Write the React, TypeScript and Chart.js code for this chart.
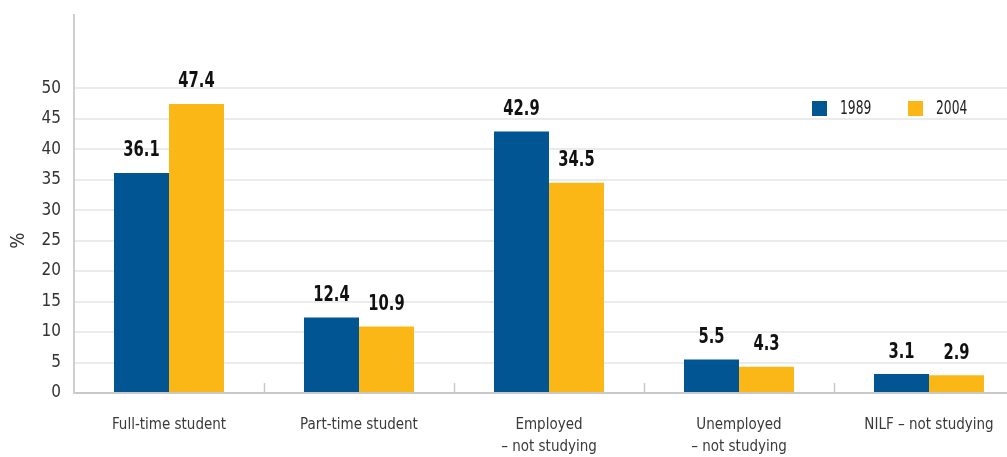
import React, { useEffect, useRef } from "react";
import { Chart, registerables } from "chart.js";

Chart.register(...registerables);

const categories: (string | string[])[] = [
  "Full-time student",
  "Part-time student",
  ["Employed", "– not studying"],
  ["Unemployed", "– not studying"],
  "NILF – not studying",
];
const series1989 = [36.1, 12.4, 42.9, 5.5, 3.1];
const series2004 = [47.4, 10.9, 34.5, 4.3, 2.9];
const seriesNames = ["1989", "2004"];
const yTickMax = 50;
const yAxisTitle = "%";

const BLUE = "#015592";
const YELLOW = "#fbb716";
const NARROW = '"Liberation Sans Narrow", "DejaVu Sans Condensed", "Open Sans", sans-serif';

function narrowText(ctx: any, text: string, x: number, y: number, sx: number) {
  ctx.save();
  ctx.translate(x, y);
  ctx.scale(sx, 1);
  ctx.fillText(text, 0, 0);
  ctx.restore();
}

const valueLabels = {
  id: "valueLabels",
  afterDatasetsDraw(chart: any) {
    const ctx = chart.ctx;
    ctx.save();
    ctx.font = `bold 21px ${NARROW}`;
    ctx.fillStyle = "#111111";
    ctx.textAlign = "center";
    ctx.textBaseline = "middle";
    chart.data.datasets.forEach((ds: any, di: number) => {
      const meta = chart.getDatasetMeta(di);
      meta.data.forEach((bar: any, i: number) => {
        narrowText(ctx, String(ds.data[i]), bar.x, bar.y - 22, 0.78);
      });
    });
    ctx.restore();
  },
};

const extras = {
  id: "extras",
  afterDraw(chart: any) {
    const ctx = chart.ctx;
    const x = chart.scales.x;
    const area = chart.chartArea;
    ctx.save();
    // category separator ticks
    ctx.strokeStyle = "#c9c9c9";
    ctx.lineWidth = 1.5;
    const n = chart.data.labels.length;
    for (let i = 1; i < n; i++) {
      const px = Math.round((x.getPixelForValue(i - 1) + x.getPixelForValue(i)) / 2) + 0.5;
      ctx.beginPath();
      ctx.moveTo(px, area.bottom - 10);
      ctx.lineTo(px, area.bottom);
      ctx.stroke();
    }
    // y title
    ctx.fillStyle = "#333333";
    ctx.font = `19px ${NARROW}`;
    ctx.textAlign = "center";
    ctx.textBaseline = "middle";
    const y = chart.scales.y;
    const cy = (y.getPixelForValue(0) + y.getPixelForValue(yTickMax)) / 2;
    ctx.translate(19, cy);
    ctx.rotate(-Math.PI / 2);
    ctx.fillText(yAxisTitle, 0, 0);
    ctx.restore();

    // legend
    ctx.save();
    ctx.font = `19px ${NARROW}`;
    ctx.textBaseline = "middle";
    ctx.textAlign = "left";
    const starts = [812, 908];
    chart.data.datasets.forEach((ds: any, di: number) => {
      const lx = starts[di];
      ctx.fillStyle = ds.backgroundColor;
      ctx.fillRect(lx, 101, 15, 15);
      ctx.fillStyle = "#222222";
      narrowText(ctx, ds.label, lx + 28, 109, 0.72);
    });
    ctx.restore();
  },
};

export default function App() {
  const ref = useRef<HTMLCanvasElement | null>(null);
  useEffect(() => {
    if (!ref.current) return;
    const chart = new Chart(ref.current, {
      type: "bar",
      data: {
        labels: categories,
        datasets: [
          { label: seriesNames[0], data: series1989, backgroundColor: BLUE },
          { label: seriesNames[1], data: series2004, backgroundColor: YELLOW },
        ],
      },
      options: {
        animation: false,
        responsive: false,
        maintainAspectRatio: false,
        devicePixelRatio: 1,
        layout: { padding: { top: 15, left: 0, right: 0, bottom: 0 } },
        datasets: { bar: { categoryPercentage: 0.579, barPercentage: 1 } },
        plugins: { legend: { display: false }, tooltip: { enabled: false } },
        scales: {
          x: {
            grid: { display: false, drawTicks: false },
            border: { display: true, color: "#c9c9c9", width: 2 },
            ticks: {
              color: "#3a3a3a",
              font: { family: NARROW, size: 15, lineHeight: 1.47 },
              padding: 21,
              maxRotation: 0,
              autoSkip: false,
            },
            afterFit: (s: any) => {
              s.height = 64;
              s.paddingLeft = 0;
              s.paddingRight = 0;
            },
          },
          y: {
            min: 0,
            max: 62,
            grid: { color: "#ebebeb", lineWidth: 2, drawTicks: false },
            border: { display: true, color: "#cfcfcf", width: 2 },
            ticks: {
              stepSize: 5,
              color: "#333333",
              font: { family: NARROW, size: 17 },
              padding: 13,
            },
            afterBuildTicks: (s: any) => {
              s.ticks = s.ticks.filter((t: any) => t.value <= yTickMax);
            },
            afterFit: (s: any) => {
              s.width = 74;
              s.paddingTop = 0;
              s.paddingBottom = 0;
            },
          },
        },
      },
      plugins: [valueLabels, extras],
    } as any);
    return () => chart.destroy();
  }, []);
  return (
    <div
      style={{
        position: "absolute",
        left: 0,
        top: 0,
        width: 1007,
        height: 457,
        overflow: "hidden",
        background: "#ffffff",
      }}
    >
      <canvas ref={ref} width={1024} height={457} style={{ display: "block" }} />
    </div>
  );
}
